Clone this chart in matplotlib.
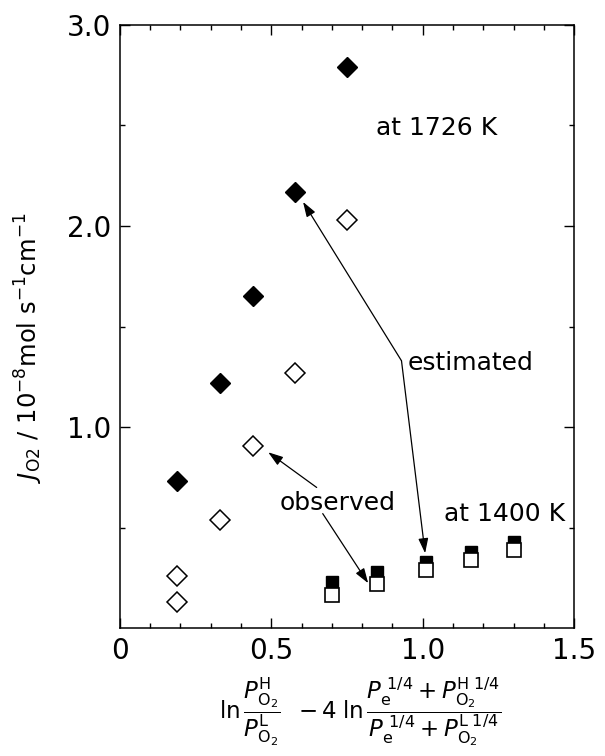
import matplotlib
matplotlib.use("Agg")
import matplotlib.pyplot as plt
from matplotlib.ticker import MultipleLocator, FixedLocator, FuncFormatter

plt.rcParams['font.family'] = ['DejaVu Sans']
plt.rcParams['mathtext.fontset'] = 'dejavusans'

# 1726 K data (diamonds)
x_1726 = [0.19, 0.33, 0.44, 0.58, 0.75]
est_1726 = [0.73, 1.22, 1.65, 2.17, 2.79]
x_1726_obs = [0.19, 0.19, 0.33, 0.44, 0.58, 0.75]
obs_1726 = [0.13, 0.26, 0.54, 0.905, 1.27, 2.03]

# 1400 K data (squares)
x_1400 = [0.70, 0.85, 1.01, 1.16, 1.30]
est_1400 = [0.23, 0.28, 0.33, 0.38, 0.43]
obs_1400 = [0.165, 0.22, 0.29, 0.34, 0.39]

fig = plt.figure(figsize=(6.05, 7.56), dpi=100)
ax = fig.add_axes([0.198, 0.169, 0.751, 0.798])

ax.plot(x_1726, est_1726, 'D', ms=10, color='black', mec='black', mew=1)
ax.plot(x_1726_obs, obs_1726, 'D', ms=10, mfc='white', mec='black', mew=1.1)
ax.plot(x_1400, est_1400, 's', ms=9, color='black', mec='black', mew=1)
ax.plot(x_1400, obs_1400, 's', ms=10.5, mfc='white', mec='black', mew=1.2)

ax.set_xlim(0, 1.5)
ax.set_ylim(0, 3.0)

ax.xaxis.set_major_locator(MultipleLocator(0.5))
ax.xaxis.set_minor_locator(MultipleLocator(0.1))
ax.xaxis.set_major_formatter(FuncFormatter(lambda v, p: '0' if v == 0 else f'{v:.1f}'))
ax.yaxis.set_major_locator(FixedLocator([1.0, 2.0, 3.0]))
ax.yaxis.set_minor_locator(FixedLocator([0.5, 1.5, 2.5]))
ax.yaxis.set_major_formatter(FuncFormatter(lambda v, p: f'{v:.1f}'))

ax.tick_params(which='both', direction='in', top=True, right=True, width=1)
ax.tick_params(which='major', length=7, labelsize=20, pad=6)
ax.tick_params(which='minor', length=3.5)
for s in ax.spines.values():
    s.set_linewidth(1.1)

ax.set_ylabel(r'$J_{\rm O2}$ / 10$^{-8}$mol s$^{-1}$cm$^{-1}$', fontsize=17.5)
ax.yaxis.set_label_coords(-0.165, 0.465)
ax.set_xlabel(r'$\ln\dfrac{P^{\rm H}_{\rm O_2}}{P^{\rm L}_{\rm O_2}}\;\; -4\;\ln\dfrac{P_{\rm e}^{\;1/4}+P^{\rm H\;1/4}_{\rm O_2}}{P_{\rm e}^{\;1/4}+P^{\rm L\;1/4}_{\rm O_2}}$',
              fontsize=16.5)
ax.xaxis.set_label_coords(0.53, -0.078)

ax.text(1.047, 2.49, 'at 1726 K', fontsize=18, ha='center', va='center')
ax.text(1.27, 0.57, 'at 1400 K', fontsize=18, ha='center', va='center')
ax.text(0.95, 1.32, 'estimated', fontsize=18, ha='left', va='center')
ax.text(0.72, 0.625, 'observed', fontsize=18, ha='center', va='center')

arrow = dict(arrowstyle='-|>,head_length=0.45,head_width=0.15', color='black', lw=0.9,
             mutation_scale=20, shrinkA=0, shrinkB=0)
ax.annotate('', xy=(0.605, 2.12), xytext=(0.93, 1.33), arrowprops=arrow)
ax.annotate('', xy=(1.008, 0.373), xytext=(0.93, 1.33), arrowprops=arrow)
ax.annotate('', xy=(0.49, 0.875), xytext=(0.65, 0.70), arrowprops=arrow)
ax.annotate('', xy=(0.82, 0.224), xytext=(0.67, 0.57), arrowprops=arrow)

fig.savefig('out.png', dpi=100)
